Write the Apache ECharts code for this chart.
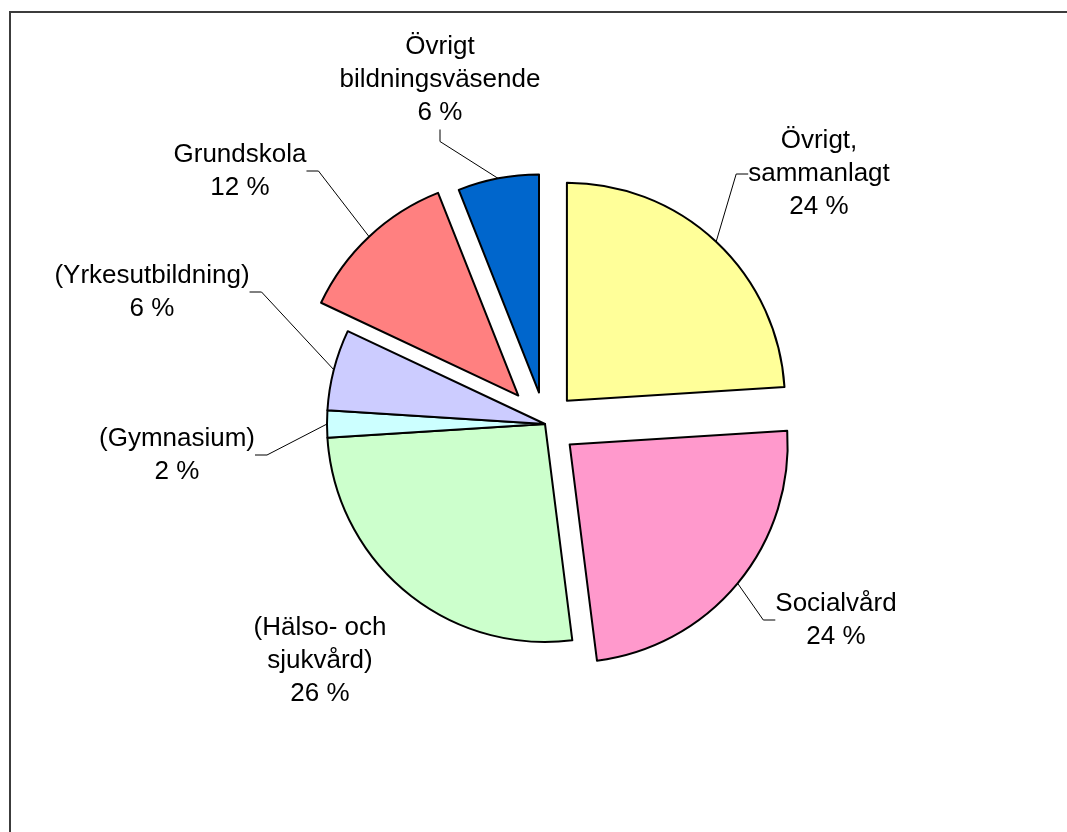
<!DOCTYPE html>
<html>
<head>
<meta charset="utf-8">
<script src="https://cdn.jsdelivr.net/npm/echarts@6/dist/echarts.min.js"></script>
<style>
  html, body { margin: 0; padding: 0; background: #fff; }
  #frame {
    position: absolute; left: 9px; top: 11px; right: 0; bottom: 0;
    border-left: 2px solid #3c3c3c; border-top: 2px solid #3c3c3c;
  }
  #myPieChart { position: absolute; left: 0; top: 0; width: 1067px; height: 832px; }
</style>
</head>
<body>
<div id="frame"></div>
<div id="myPieChart"></div>
<script>
const categories = [
  "Övrigt,\nsammanlagt",
  "Socialvård",
  "(Hälso- och\nsjukvård)",
  "(Gymnasium)",
  "(Yrkesutbildning)",
  "Grundskola",
  "Övrigt\nbildningsväsende",
];
const shares = [24, 24, 26, 2, 6, 12, 6];
const sliceColors = ["#FFFF99", "#FF99CC", "#CCFFCC", "#CCFFFF", "#CCCCFF", "#FF8080", "#0066CC"];

// how far each slice is pulled out of the pie (px)
const explodeBy = [32, 32, 0, 0, 0, 39, 32];
// label centre, as offset from the pie centre
const CX = 545, CY = 424, R = 218;
const labelSpots = [[274, -250], [291, 196], [-225, 237], [-368, 31], [-393, -132], [-305, -253], [-105, -344]];

const pieChart = echarts.init(document.getElementById("myPieChart"));

const total = shares.reduce((a, b) => a + b, 0);

const hidden = (v) => ({
  value: v,
  itemStyle: { color: "transparent", borderWidth: 0 },
  label: { show: false },
  labelLine: { show: false },
});

// one pie series per slice, so each slice can be pulled out on its own
const generateSeries = () => {
  let before = 0;
  return categories.map((name, i) => {
    const mid = ((before + shares[i] / 2) / total) * Math.PI * 2;
    const ox = Math.sin(mid) * explodeBy[i];
    const oy = -Math.cos(mid) * explodeBy[i];
    const s = {
      type: "pie",
      silent: true,
      center: [CX + ox, CY + oy],
      radius: [0, R],
      startAngle: 90,
      clockwise: true,
      avoidLabelOverlap: false,
      stillShowZeroSum: true,
      emphasis: { disabled: true, scale: false },
      itemStyle: { borderColor: "#000", borderWidth: 2 },
      label: {
        show: true,
        position: "outside",
        formatter: (p) => p.name + "\n" + p.value + " %",
        fontFamily: "Liberation Sans, Arial, sans-serif",
        fontSize: 26,
        lineHeight: 33,
        color: "#000",
        align: "center",
      },
      labelLine: {
        show: i !== 2,
        length: 10,
        length2: 12,
        lineStyle: { color: "#000", width: 1 },
      },
      labelLayout: (params) => {
        if (params.dataIndex !== 1) return {};
        const p = labelSpots[i];
        return { x: CX + p[0], y: CY + p[1], align: "center", verticalAlign: "middle" };
      },
      data: [
        hidden(before),
        { name: name, value: shares[i], itemStyle: { color: sliceColors[i] } },
        hidden(total - before - shares[i]),
      ],
    };
    before += shares[i];
    return s;
  });
};

const option = {
  animation: false,
  series: generateSeries(),
};

pieChart.setOption(option);
</script>
</body>
</html>
